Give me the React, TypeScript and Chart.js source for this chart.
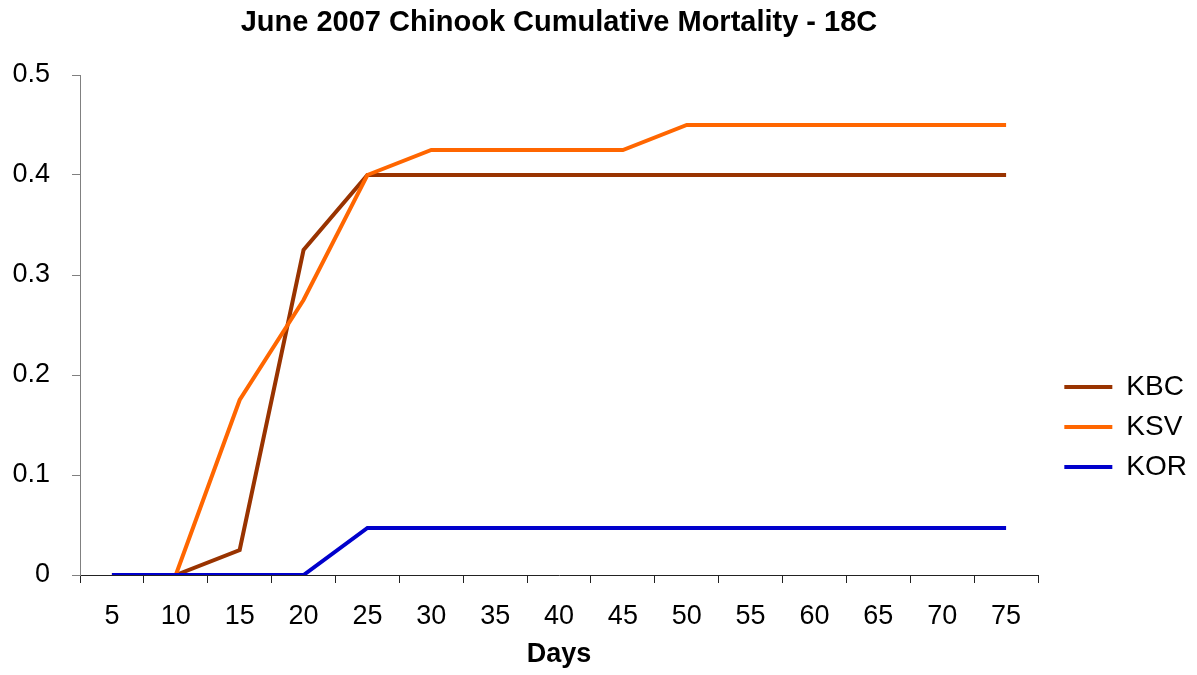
import React, { useEffect, useRef } from "react";
import { Chart, registerables } from "chart.js";

Chart.register(...registerables);

const days = ["5", "10", "15", "20", "25", "30", "35", "40", "45", "50", "55", "60", "65", "70", "75"];
const kbc = [0, 0, 0.025, 0.325, 0.4, 0.4, 0.4, 0.4, 0.4, 0.4, 0.4, 0.4, 0.4, 0.4, 0.4];
const ksv = [0, 0, 0.175, 0.275, 0.4, 0.425, 0.425, 0.425, 0.425, 0.45, 0.45, 0.45, 0.45, 0.45, 0.45];
const kor = [0, 0, 0, 0, 0.047, 0.047, 0.047, 0.047, 0.047, 0.047, 0.047, 0.047, 0.047, 0.047, 0.047];
const seriesNames = ["KBC", "KSV", "KOR"];
const seriesColors = ["#993300", "#FF6600", "#0000CC"];
const chartTitle = "June 2007 Chinook Cumulative Mortality - 18C";
const xTitle = "Days";

const FONT = "'Liberation Sans', Arial, Helvetica, sans-serif";

export default function App() {
  const ref = useRef<HTMLCanvasElement | null>(null);

  useEffect(() => {
    if (!ref.current) return;
    const values = [kbc, ksv, kor];
    const chart = new Chart(ref.current, {
      type: "line",
      data: {
        labels: days,
        datasets: values.map((v, i) => ({
          label: seriesNames[i],
          data: v,
          borderColor: seriesColors[i],
          backgroundColor: seriesColors[i],
          borderWidth: 4,
          pointRadius: 0,
          tension: 0,
          fill: false,
          order: 2 - i,
        })),
      },
      options: {
        animation: false,
        responsive: true,
        maintainAspectRatio: false,
        layout: { padding: 0 },
        plugins: {
          title: {
            display: true,
            fullSize: false,
            text: chartTitle,
            color: "#000",
            font: { family: FONT, size: 29, weight: "bold" },
            padding: { top: 6, bottom: 34.2 },
          },
          legend: {
            position: "right",
            labels: {
              usePointStyle: true,
              pointStyle: "line",
              pointStyleWidth: 48,
              color: "#000",
              font: { family: FONT, size: 28 },
              padding: 12,
              sort: (a: any, b: any) => a.datasetIndex - b.datasetIndex,
            },
            title: {
              display: true,
              text: "",
              font: { family: FONT, size: 12 },
              padding: { top: 164.6, bottom: 0 },
            },
          },
          tooltip: { enabled: false },
        },
        scales: {
          x: {
            type: "category",
            offset: true,
            grid: {
              display: true,
              offset: true,
              drawOnChartArea: false,
              drawTicks: true,
              tickLength: 8,
              color: "#222",
            },
            border: { display: true, color: "#222" },
            ticks: {
              color: "#000",
              font: { family: FONT, size: 27 },
              padding: 17,
              maxRotation: 0,
              autoSkip: false,
            },
            title: {
              display: true,
              text: xTitle,
              color: "#000",
              font: { family: FONT, size: 27, weight: "bold" },
              padding: { top: 0, bottom: 4 },
            },
            afterFit: (s: any) => {
              s.height = 100;
            },
          },
          y: {
            min: 0,
            max: 0.5,
            grid: {
              drawOnChartArea: false,
              drawTicks: true,
              tickLength: 8,
              color: "#808080",
            },
            border: { display: true, color: "#808080" },
            ticks: {
              stepSize: 0.1,
              color: "#000",
              font: { family: FONT, size: 27 },
              padding: 22,
            },
            afterFit: (s: any) => {
              s.width = 80;
            },
          },
          yR: {
            position: "right",
            display: true,
            grid: { display: false },
            border: { display: false },
            ticks: { display: false },
            afterFit: (s: any) => {
              s.width = 14.3;
            },
          },
        },
      },
    } as any);
    return () => chart.destroy();
  }, []);

  return (
    <div style={{ position: "fixed", left: 0, top: 0, width: 1197, height: 675, background: "#fff" }}>
      <canvas ref={ref} />
    </div>
  );
}
